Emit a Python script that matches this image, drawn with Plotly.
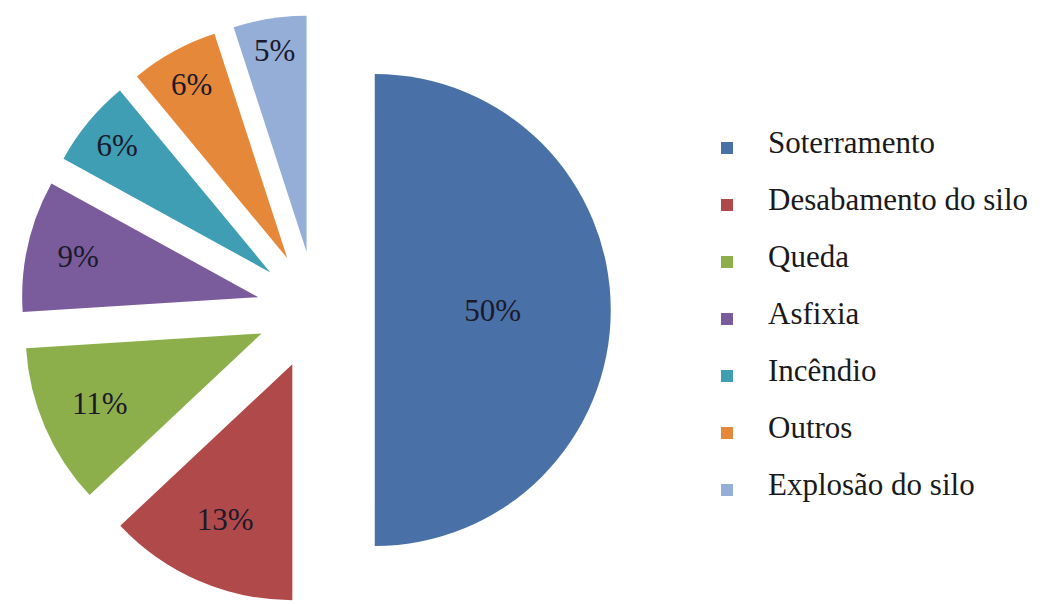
import plotly.graph_objects as go

categories = ["Soterramento", "Desabamento do silo", "Queda", "Asfixia",
              "Incêndio", "Outros", "Explosão do silo"]
values = [50, 13, 11, 9, 6, 6, 5]
colors = ["#4A70A8", "#B0494A", "#8DAF4B", "#7A5C9C", "#3F9DB4", "#E5883A", "#95AED8"]

legend_labels = [" <br><span style='font-size:31px'>%s</span><br> " % c for c in categories]

fig = go.Figure(go.Pie(
    labels=legend_labels,
    values=values,
    sort=False,
    direction="clockwise",
    rotation=0,
    pull=[0.25] * len(values),
    marker=dict(colors=colors, line=dict(width=0)),
    texttemplate="%{value}%",
    textposition="inside",
    insidetextorientation="horizontal",
    textfont=dict(family="Liberation Serif", size=31, color="#1a1a2a"),
    domain=dict(x=[0, 0.6032], y=[0, 1]),
    hoverinfo="skip",
))

fig.update_layout(
    width=1047, height=605,
    margin=dict(l=0, r=0, t=15, b=0),
    paper_bgcolor="white",
    plot_bgcolor="white",
    showlegend=True,
    legend=dict(
        x=0.6552, xanchor="left",
        y=0.4841, yanchor="middle",
        font=dict(family="Liberation Serif", size=13.85, color="#1a1a1a"),
        itemwidth=72,
        bgcolor="rgba(0,0,0,0)",
    ),
)

fig.write_html("out.html")
